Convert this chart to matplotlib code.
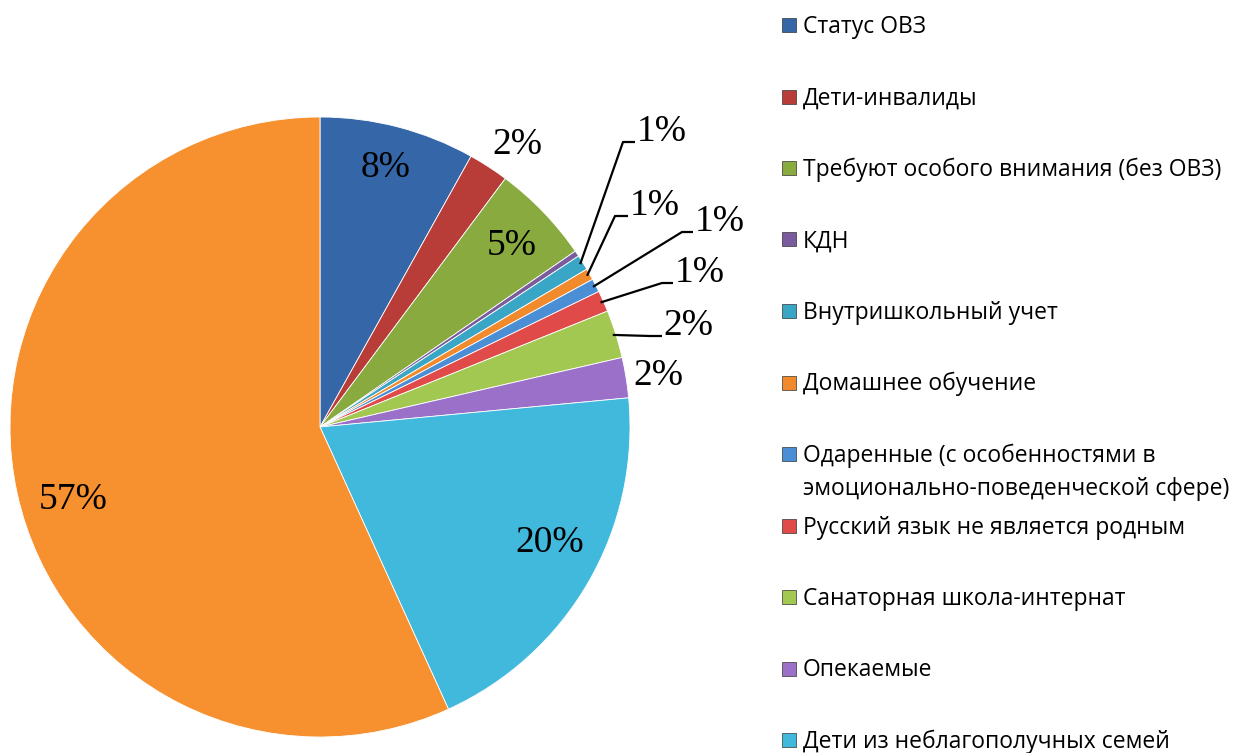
import numpy as np
import matplotlib.pyplot as plt
from matplotlib.patches import Rectangle

# Data (shares in %)
categories = [
    "Статус ОВЗ",
    "Дети-инвалиды",
    "Требуют особого внимания (без ОВЗ)",
    "КДН",
    "Внутришкольный учет",
    "Домашнее обучение",
    "Одаренные (с особенностями в\nэмоционально-поведенческой сфере)",
    "Русский язык не является родным",
    "Санаторная школа-интернат",
    "Опекаемые",
    "Дети из неблагополучных семей",
]
values = [8.1, 2.1, 5.2, 0.3, 0.8, 0.6, 0.7, 1.1, 2.5, 2.1, 19.7, 56.8]

colors = ["#3466A8", "#B83C38", "#88AA3E", "#7A5C9E", "#3AA6C6", "#F08A2C",
          "#4A8ED6", "#E04A48", "#A2C852", "#9A70C8", "#41B9DC", "#F7902E"]

W, H = 1238, 753
fig = plt.figure(figsize=(W / 100, H / 100), dpi=100)

# pie centre (320, 427) px, radius 310 px
cx, cy, R = 320, 427, 310
ax = fig.add_axes([(cx - R) / W, (H - cy - R) / H, 2 * R / W, 2 * R / H])


def px(x, y):
    return ((x - cx) / R, (cy - y) / R)


wedges, _ = ax.pie(values, colors=colors, startangle=90, counterclock=False,
                   radius=1.0, wedgeprops=dict(edgecolor="white", linewidth=0.6))
ax.set_xlim(-1, 1)
ax.set_ylim(-1, 1)
ax.axis("off")

lab_font = dict(family="Liberation Serif", fontsize=27, color="black")

# label positions (px) per slice
inside = {0: (386, 168), 2: (512, 246), 10: (550, 543), 11: (73, 500),
          1: (517, 145), 9: (658, 376)}
# leader lines: elbow point, end point (px)
leaders = {4: ((623, 142), (635, 142)),
           5: ((615, 216), (628, 216)),
           6: ((682, 232), (693, 232)),
           7: ((662, 283), (673, 283)),
           8: ((650, 336), (662, 336))}

for i, w in enumerate(wedges):
    txt = "%d%%" % round(values[i])
    if i in inside:
        x, y = px(*inside[i])
        ax.text(x, y, txt, ha="center", va="center", **lab_font)
    elif i in leaders:
        mid = np.deg2rad((w.theta1 + w.theta2) / 2)
        sx, sy = np.cos(mid) * 0.99, np.sin(mid) * 0.99
        (ex, ey), (fx, fy) = px(*leaders[i][0]), px(*leaders[i][1])
        ax.plot([sx, ex, fx], [sy, ey, fy], color="black", lw=1.6,
                clip_on=False, solid_capstyle="butt")
        ax.text(fx + 0.005, fy + 0.003, txt, ha="left", va="baseline", **lab_font)

# legend drawn by hand to match the spacing of the original
leg_y0, leg_step, line_h = 25, 71.5, 33
for i, name in enumerate(categories):
    y = leg_y0 + i * leg_step
    fig.patches.append(Rectangle((782 / W, 1 - (y + 7) / H), 14 / W, 14 / H,
                                 transform=fig.transFigure, facecolor=colors[i],
                                 edgecolor="#333333", linewidth=0.5))
    for j, line in enumerate(name.split("\n")):
        fig.text(803 / W, 1 - (y + 8 + j * line_h) / H, line, ha="left",
                 va="baseline", family="Open Sans", fontsize=16.5)

fig.savefig("out.png", dpi=100)
